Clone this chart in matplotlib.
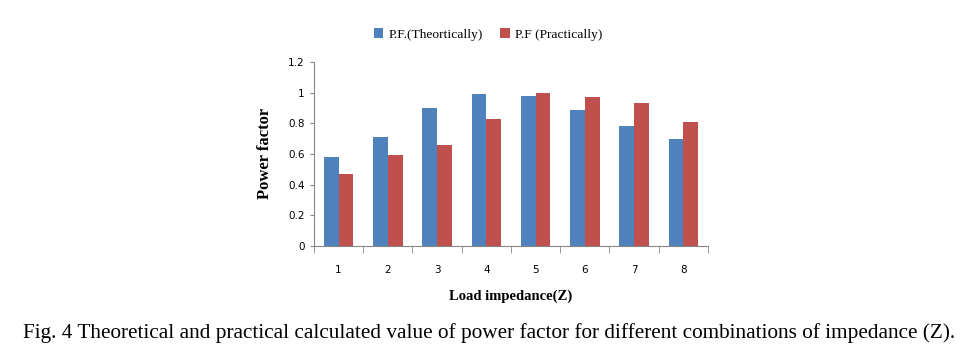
import numpy as np
import matplotlib.pyplot as plt

# values
loads = ['1', '2', '3', '4', '5', '6', '7', '8']
pf_theory = [0.58, 0.71, 0.90, 0.99, 0.98, 0.885, 0.785, 0.695]
pf_practical = [0.47, 0.59, 0.655, 0.83, 1.0, 0.97, 0.935, 0.81]

fig = plt.figure(figsize=(9.61, 3.61), dpi=100)
ax = fig.add_axes([0.3267, 0.3186, 0.41, 0.51])

x = np.arange(len(loads))
w = 0.3
ax.bar(x - w / 2, pf_theory, w, color='#4F81BD', label='P.F.(Theortically)')
ax.bar(x + w / 2, pf_practical, w, color='#C0504D', label='P.F (Practically)')

ax.set_xlim(-0.5, len(loads) - 0.5)
ax.set_ylim(0, 1.2)
ax.set_yticks(np.arange(0, 1.21, 0.2))
ax.set_yticklabels(['0', '0.2', '0.4', '0.6', '0.8', '1', '1.2'])
ax.set_xticks(x)
ax.set_xticklabels(loads)
ax.set_xticks(np.arange(-0.5, len(loads), 1), minor=True)
ax.tick_params(axis='x', which='major', length=0, pad=14, labelsize=7.5)
ax.tick_params(axis='x', which='minor', length=5, color='#868686')
ax.tick_params(axis='y', length=3, color='#868686', labelsize=7.5)
for s in ['top', 'right']:
    ax.spines[s].set_visible(False)
ax.spines['left'].set_color('#868686')
ax.spines['bottom'].set_color('#868686')

serif = 'Liberation Serif'
ax.set_ylabel('Power factor', fontfamily=serif, fontweight='bold', fontsize=12, labelpad=11)
ax.set_xlabel('Load impedance(Z)', fontfamily=serif, fontweight='bold', fontsize=10.5, labelpad=10)

fig.legend(loc='center', bbox_to_anchor=(0.508, 0.905), ncol=2, frameon=False,
           prop={'family': serif, 'size': 9.7}, handlelength=0.7, handleheight=0.7,
           columnspacing=1.3, handletextpad=0.4)

fig.text(0.509, 0.077, 'Fig. 4 Theoretical and practical calculated value of power factor for '
         'different combinations of impedance (Z).', ha='center', va='center',
         fontfamily=serif, fontsize=15.3)

fig.savefig('out.png', dpi=100)
